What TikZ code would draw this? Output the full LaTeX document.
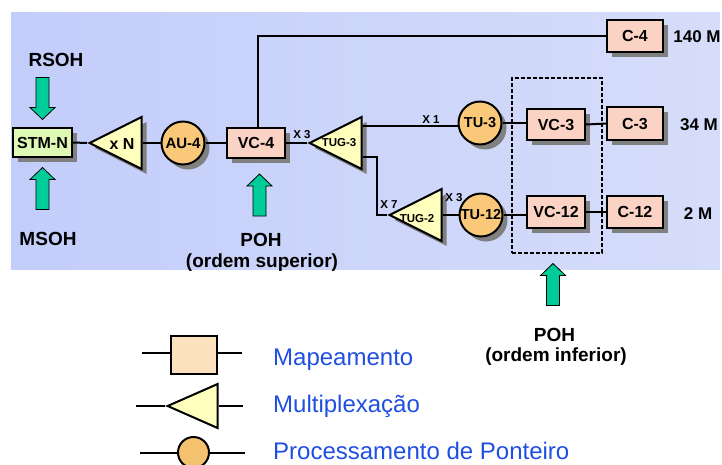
\documentclass[tikz,border=0pt]{standalone}
\usepackage{fontspec}
\setmainfont{Liberation Sans}
\usetikzlibrary{shapes.geometric,shadows,calc}
\definecolor{bgL}{HTML}{C3CDFA}
\definecolor{bgR}{HTML}{D6DDFA}
\definecolor{boxc}{HTML}{FBD3C4}
\definecolor{stmc}{HTML}{DDF9B4}
\definecolor{circc}{HTML}{F9C979}
\definecolor{tric}{HTML}{FFFFBE}
\definecolor{grn}{HTML}{00CC99}
\definecolor{legbox}{HTML}{FBE1BE}
\definecolor{legcirc}{HTML}{F4C26E}
\definecolor{legtxt}{HTML}{1F4FE0}
\begin{document}
\begin{tikzpicture}[x=1pt,y=-1pt,
  ln/.style={line width=2pt},
  sh/.style={drop shadow={shadow xshift=5pt,shadow yshift=-5pt,fill=black!50,opacity=1}},
  bx/.style={draw,line width=2pt,fill=boxc,inner sep=0,font=\bfseries\fontsize{16}{16}\selectfont,sh},
  cc/.style={circle,draw,line width=2pt,fill=circc,minimum size=43pt,inner sep=0,font=\bfseries\fontsize{15}{15}\selectfont,sh},
  tri/.style={isosceles triangle,isosceles triangle stretches,shape border rotate=180,draw,line width=2pt,fill=tric,inner sep=0,minimum width=52pt,minimum height=52pt,anchor=apex},
  lbl/.style={font=\bfseries\fontsize{19}{19}\selectfont,inner sep=0},
  sm/.style={font=\bfseries\fontsize{11.5}{11.5}\selectfont,inner sep=0},
  leg/.style={font=\fontsize{24}{24}\selectfont,text=legtxt,inner sep=0,anchor=base west},
  garrow/.pic={\draw[line width=0.8pt,fill=grn] (-6.5,21) -- (-6.5,-9) -- (-12.5,-9) -- (0,-21) -- (12.5,-9) -- (6.5,-9) -- (6.5,21) -- cycle;}
]
\useasboundingbox (0,0) rectangle (722,464);
\shade[left color=bgL,right color=bgR] (11,12) rectangle (720,269);

% main chain
\node[bx,fill=stmc,minimum width=59pt,minimum height=29pt] (stm) at (42.5,142.5) {STM-N};
\node[tri,sh] (xn) at (87,143) {};
\node[font=\bfseries\fontsize{16}{16}\selectfont,inner sep=0] (xnt) at (122,144) {x N};
\node[cc] (au4) at (183,143) {AU-4};
\node[bx,minimum width=58pt,minimum height=30pt] (vc4) at (256,143) {VC-4};
\node[tri,sh] (tug3) at (307,143) {};
\node[font=\bfseries\fontsize{11.5}{11.5}\selectfont,inner sep=0] (tug3t) at (339,143) {TUG-3};
\node[cc,font=\bfseries\fontsize{14.5}{14.5}\selectfont] (tu3) at (480,123) {TU-3};
\node[tri,sh] (tug2) at (387,215) {};
\node[font=\bfseries\fontsize{11.5}{11.5}\selectfont,inner sep=0] (tug2t) at (417,219) {TUG-2};
\node[cc,font=\bfseries\fontsize{14.5}{14.5}\selectfont] (tu12) at (481,215) {TU-12};
\node[bx,minimum width=58pt,minimum height=31pt] (vc3) at (556,124.5) {VC-3};
\node[bx,minimum width=56pt,minimum height=33pt] (c3) at (635,123.5) {C-3};
\node[bx,minimum width=58pt,minimum height=32pt] (vc12) at (556,212) {VC-12};
\node[bx,minimum width=56pt,minimum height=32pt] (c12) at (635,212) {C-12};
\node[bx,minimum width=56pt,minimum height=32pt] (c4) at (635,36) {C-4};

% connectors
\draw[ln] (stm.east) -- (xn.apex);
\draw[ln] (xn.lower side) -- (au4.west);
\draw[ln] (au4.east) -- (vc4.west);
\draw[ln] (vc4.east) -- (tug3.apex);
\draw[ln] ($(vc4.north)+(2,0)$) |- (c4.west);
\coordinate (t3a) at ($(tug3.lower side)+(0,-17)$);
\coordinate (t3b) at ($(tug3.lower side)+(0,14)$);
\draw[ln] (t3a) -- (t3a -| tu3.west);
\draw[ln] (t3b) -- ++(14,0) |- (tug2.apex);
\draw[ln] (tug2.lower side) -- (tu12.west);
\draw[ln] (tu3.east) -- (tu3.east -| vc3.west);
\draw[ln] (vc3.east) -- (c3.west);
\draw[ln] (tu12.east) -- (tu12.east -| vc12.west);
\draw[ln] (vc12.east) -- (c12.west);

% dashed group
\node[draw,line width=1.5pt,dash pattern=on 4pt off 2pt,minimum width=90pt,minimum height=175pt,inner sep=0] (grp) at (557,165.5) {};

% small labels
\node[sm] (x3a) at (302,135) {X 3};
\node[sm] (x1) at (431,120) {X 1};
\node[sm] (x7) at (389,205) {X 7};
\node[sm] (x3b) at (454,198) {X 3};

% rates
\node[font=\bfseries\fontsize{17}{17}\selectfont,inner sep=0] (r140) at (697,37) {140 M};
\node[font=\bfseries\fontsize{17}{17}\selectfont,inner sep=0] (r34) at (699,125) {34 M};
\node[font=\bfseries\fontsize{17}{17}\selectfont,inner sep=0] (r2) at (698,214) {2 M};

% overhead arrows and labels
\pic[rotate=180] at (42.5,98.5) {garrow};
\pic at (42.5,188.5) {garrow};
\pic at (259.5,195) {garrow};
\pic at (553,284.5) {garrow};
\node[lbl] (rsoh) at (56,60) {RSOH};
\node[lbl] (msoh) at (48,239) {MSOH};
\node[lbl] (poh1) at (261,240) {POH};
\node[lbl] (poh1b) at (262,263) {(ordem superior)};
\node[lbl] (poh2) at (554.5,334.5) {POH};
\node[lbl] (poh2b) at (556,357) {(ordem inferior)};

% legend
\node[draw,line width=2pt,fill=legbox,minimum width=46pt,minimum height=38pt,inner sep=0] (lbox) at (194,355) {};
\coordinate (l1a) at (142,353);
\coordinate (l1b) at (242,353);
\draw[ln] (l1a) -- (l1a -| lbox.west);
\draw[ln] (l1b -| lbox.east) -- (l1b);
\node[tri,minimum width=44pt,minimum height=50pt] (ltri) at (165,406) {};
\coordinate (l2a) at (136,406);
\coordinate (l2b) at (243,406);
\draw[ln] (l2a) -- (ltri.apex);
\draw[ln] (ltri.lower side) -- (l2b);
\node[circle,draw,line width=2pt,fill=legcirc,minimum size=31pt,inner sep=0] (lcirc) at (193.5,452.5) {};
\coordinate (l3a) at (140,452.5);
\coordinate (l3b) at (245,452.5);
\draw[ln] (l3a) -- (lcirc.west);
\draw[ln] (lcirc.east) -- (l3b);
\node[leg] (m1) at (273,365) {Mapeamento};
\node[leg] (m2) at (273,412) {Multiplexação};
\node[leg] (m3) at (273,459.5) {Processamento de Ponteiro};
\end{tikzpicture}
\end{document}
